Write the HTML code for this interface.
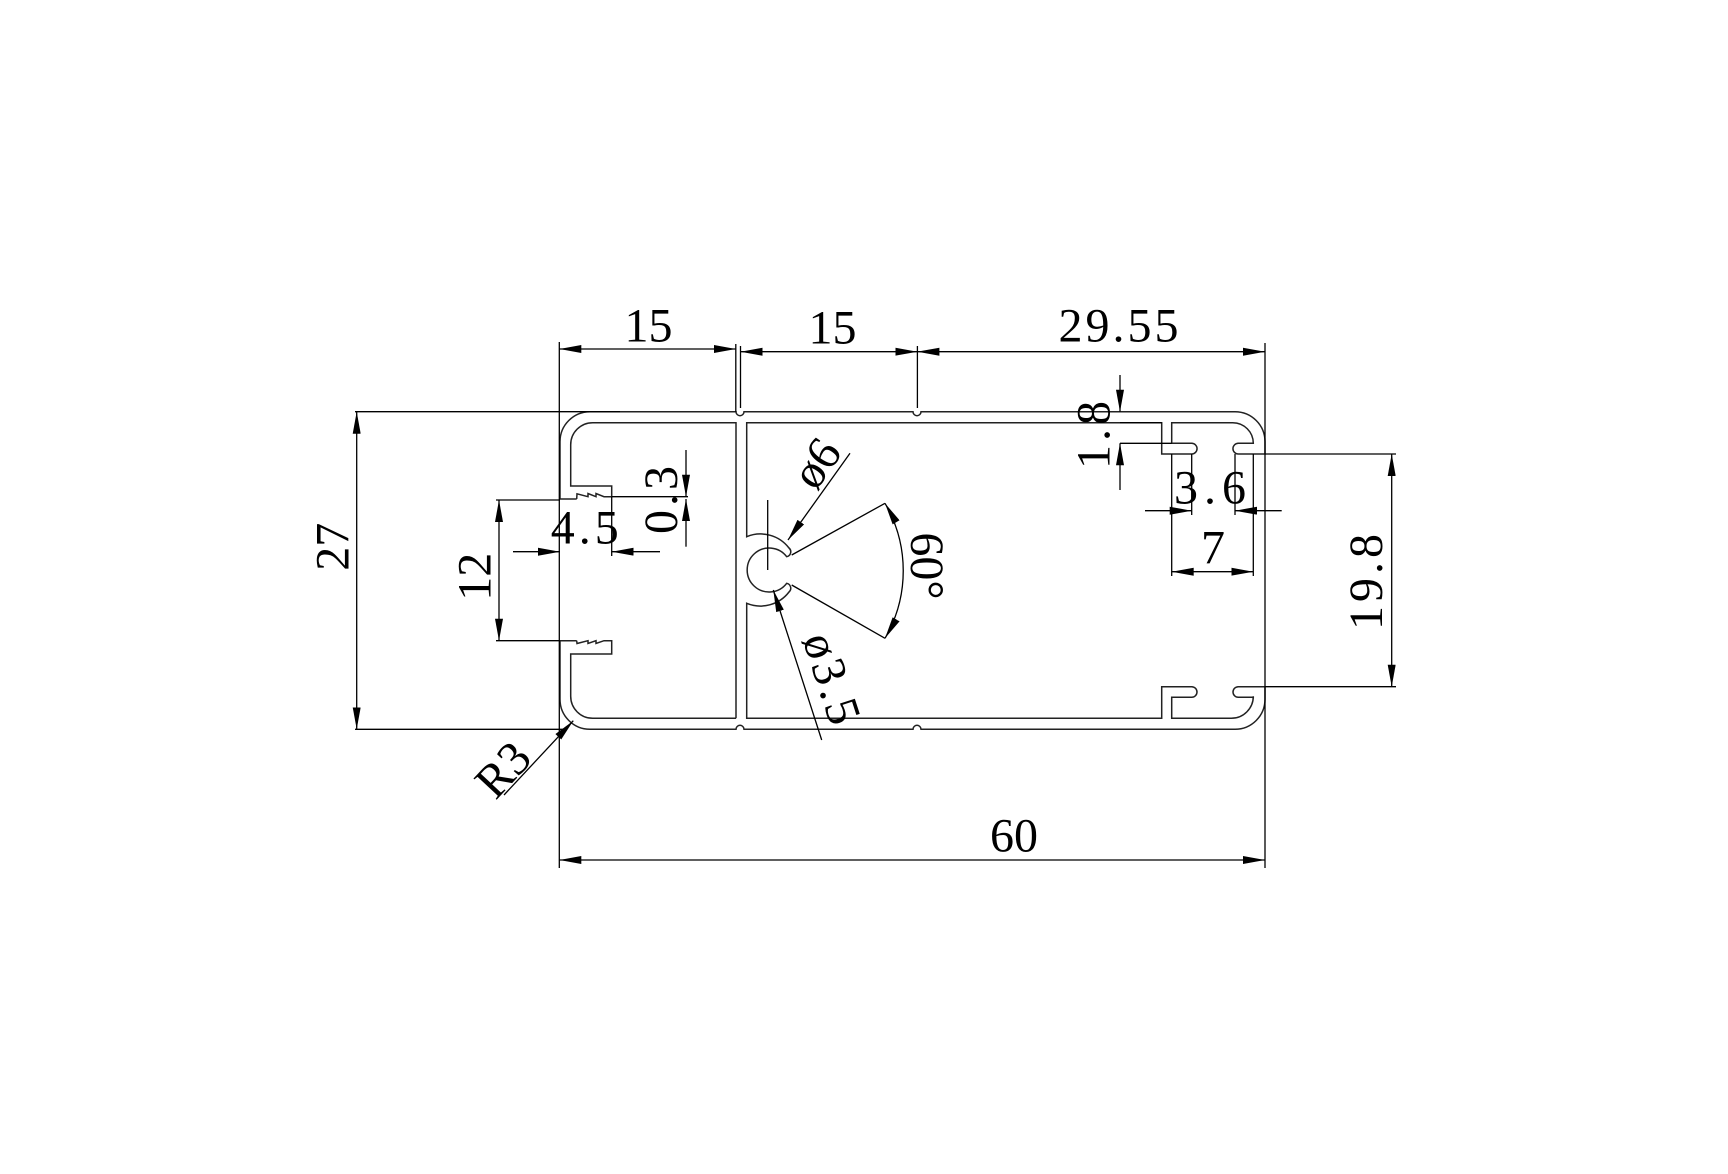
<!DOCTYPE html>
<html><head><meta charset="utf-8"><style>
html,body{margin:0;padding:0;background:#fff;}
svg{display:block}
text{font-family:"Liberation Serif",serif;font-size:48px;fill:#000;text-anchor:middle;dominant-baseline:central}
</style></head><body>
<svg width="1728" height="1174" viewBox="0 0 1728 1174" xmlns="http://www.w3.org/2000/svg">
<defs>
<marker id="a" markerUnits="userSpaceOnUse" markerWidth="24" markerHeight="10" refX="22" refY="4" orient="auto"><path d="M0,0 L22,4 L0,8 z" fill="#000"/></marker>
<marker id="s" markerUnits="userSpaceOnUse" markerWidth="24" markerHeight="10" refX="0" refY="4" orient="auto"><path d="M22,0 L0,4 L22,8 z" fill="#000"/></marker>
</defs>
<g fill="none" stroke="#222" stroke-width="1.5">
<!-- main outer/right outline -->
<path d="M576.7,499 L560,499 L560,441.7 A30,30 0 0 1 590,411.7 L736,411.7 A4,4 0 0 0 744,411.7 L913,411.7 A4,4 0 0 0 921,411.7 L1235,411.7 A30,30 0 0 1 1265,441.7 L1265,454 L1238.3,454 A5.35,5.35 0 0 1 1238.3,443.3 L1253.3,443.3 A20.6,20.6 0 0 0 1232.7,422.7 L1171.7,422.7 L1171.7,443.3 L1191.7,443.3 A5.35,5.35 0 0 1 1191.7,454 L1161.7,454 L1161.7,422.7 L746.7,422.7 L746.7,536.7 A36,36 0 0 1 789,548 A5,5 0 0 1 786.7,556.7 A22,22 0 1 0 786.7,583.3 A5,5 0 0 1 789,592 A36,36 0 0 1 746.7,603.3 L746.7,718.3 L1161.7,718.3 L1161.7,686.7 L1191.7,686.7 A5.3,5.3 0 0 1 1191.7,697.3 L1171.7,697.3 L1171.7,718.3 L1231.3,718.3 A22,22 0 0 0 1253.3,696.3 L1253.3,697.3 L1238.3,697.3 A5.3,5.3 0 0 1 1238.3,686.7 L1265,686.7 L1265,699.3 A30,30 0 0 1 1235,729.3 L921,729.3 A4,4 0 0 0 913,729.3 L744,729.3 A4,4 0 0 0 736,729.3 L590,729.3 A30,30 0 0 1 560,699.3 L560,640.7 L576.7,640.7"/>
<!-- left compartment inner -->
<path d="M736,718.3 L736,422.7 L592.7,422.7 A22,22 0 0 0 570.7,444.7 L570.7,486 L611.7,486 L611.7,496.7 L604,496.7 L596,493.5 L596,496.7 L588,493.5 L588,496.7 L577,493.8 L576.7,499"/>
<path d="M736,718.3 L592.7,718.3 A22,22 0 0 1 570.7,696.3 L570.7,654 L611.7,654 L611.7,640.7 L604,640.7 L596,643.5 L596,640.7 L588,643.5 L588,640.7 L577,643.5 L576.7,640.7"/>
</g>
<g fill="none" stroke="#000" stroke-width="1.3">
<!-- extension lines -->
<line x1="559.3" y1="342" x2="559.3" y2="868"/>
<line x1="735.8" y1="344" x2="735.8" y2="412"/>
<line x1="740.5" y1="346" x2="740.5" y2="408"/>
<line x1="917.4" y1="346" x2="917.4" y2="408"/>
<line x1="1265" y1="343" x2="1265" y2="868"/>
<line x1="355" y1="411.7" x2="620" y2="411.7"/>
<line x1="355" y1="729.3" x2="565" y2="729.3"/>
<line x1="496" y1="500" x2="560" y2="500"/>
<line x1="496" y1="640.7" x2="560" y2="640.7"/>
<line x1="611.7" y1="496.7" x2="688" y2="496.7"/>
<line x1="611.7" y1="496.7" x2="611.7" y2="556"/>
<line x1="1120" y1="422.7" x2="1161.7" y2="422.7"/>
<line x1="1120" y1="443.3" x2="1171.7" y2="443.3"/>
<line x1="1191.7" y1="454" x2="1191.7" y2="515"/>
<line x1="1235" y1="454" x2="1235" y2="515"/>
<line x1="1171.7" y1="454" x2="1171.7" y2="576"/>
<line x1="1253.3" y1="454" x2="1253.3" y2="576"/>
<line x1="1265" y1="454" x2="1396" y2="454"/>
<line x1="1265" y1="686.7" x2="1396" y2="686.7"/>
<line x1="767.7" y1="500" x2="767.7" y2="570"/>
<!-- dimension lines -->
<line x1="559.3" y1="349" x2="735.8" y2="349" marker-start="url(#s)" marker-end="url(#a)"/>
<line x1="740.5" y1="351.7" x2="917.4" y2="351.7" marker-start="url(#s)" marker-end="url(#a)"/>
<line x1="917.4" y1="351.7" x2="1265" y2="351.7" marker-start="url(#s)" marker-end="url(#a)"/>
<line x1="559.3" y1="860" x2="1265" y2="860" marker-start="url(#s)" marker-end="url(#a)"/>
<line x1="356.7" y1="411.7" x2="356.7" y2="729.3" marker-start="url(#s)" marker-end="url(#a)"/>
<line x1="499" y1="500" x2="499" y2="640.7" marker-start="url(#s)" marker-end="url(#a)"/>
<line x1="1391.7" y1="454" x2="1391.7" y2="686.7" marker-start="url(#s)" marker-end="url(#a)"/>
<line x1="1171.7" y1="571.7" x2="1253.3" y2="571.7" marker-start="url(#s)" marker-end="url(#a)"/>
<line x1="1145" y1="510.7" x2="1191.7" y2="510.7" marker-end="url(#a)"/>
<line x1="1281.7" y1="510.7" x2="1235" y2="510.7" marker-end="url(#a)"/>
<line x1="513" y1="551.7" x2="560" y2="551.7" marker-end="url(#a)"/>
<line x1="660" y1="551.7" x2="611.7" y2="551.7" marker-end="url(#a)"/>
<line x1="686" y1="450" x2="686" y2="496.7" marker-end="url(#a)"/>
<line x1="686" y1="546.7" x2="686" y2="499" marker-end="url(#a)"/>
<line x1="1120" y1="375" x2="1120" y2="411.7" marker-end="url(#a)"/>
<line x1="1120" y1="490" x2="1120" y2="443.3" marker-end="url(#a)"/>
<line x1="504" y1="795" x2="573.3" y2="720.7" marker-end="url(#a)"/>
<line x1="850" y1="453.3" x2="788" y2="540" marker-end="url(#a)"/>
<line x1="821.7" y1="740" x2="773.3" y2="590" marker-end="url(#a)"/>
<line x1="791.7" y1="555" x2="885" y2="503.3"/>
<line x1="791.7" y1="585" x2="885" y2="638.3"/>
<path d="M885,503.3 A134,134 0 0 1 885,638.3" marker-start="url(#s)" marker-end="url(#a)"/>
</g>
<g>
<text x="648.5" y="326">15</text>
<text x="832.5" y="328">15</text>
<text x="1120" y="326" letter-spacing="3">29.55</text>
<text x="1014" y="836">60</text>
<text transform="translate(333,546.7) rotate(-90)">27</text>
<text transform="translate(475,576.7) rotate(-90)">12</text>
<text x="586.7" y="528" letter-spacing="4">4.5</text>
<text transform="translate(661.7,498) rotate(-90)" letter-spacing="4">0.3</text>
<text transform="translate(503.3,770) rotate(-47)">R3</text>
<text transform="translate(816.7,463.3) rotate(-55)" font-size="42">ø6</text>
<text transform="translate(832,680) rotate(72)" font-size="42" letter-spacing="3">ø3.5</text>
<text transform="translate(926.7,566) rotate(90)">60°</text>
<text transform="translate(1094,433) rotate(-90)" letter-spacing="4">1.8</text>
<text x="1213" y="488" letter-spacing="6">3.6</text>
<text x="1213" y="548">7</text>
<text transform="translate(1366.7,580) rotate(-90)" letter-spacing="4">19.8</text>
</g>
</svg>
</body></html>
